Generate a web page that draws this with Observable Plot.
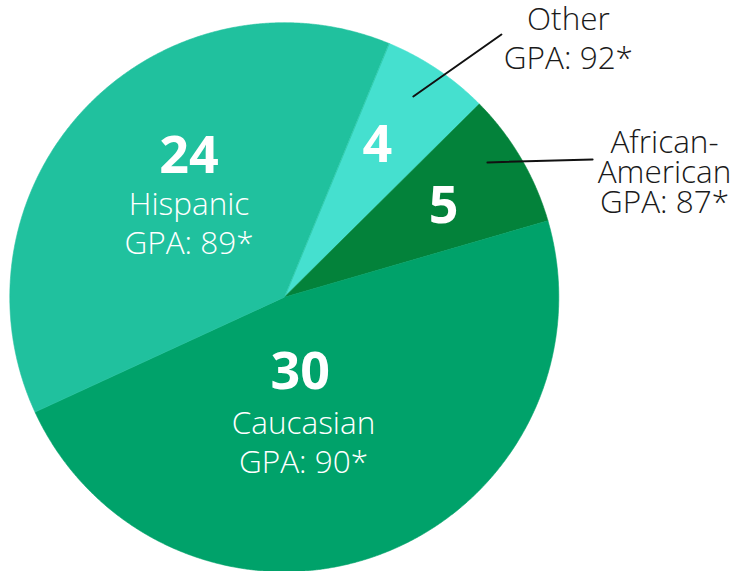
<!DOCTYPE html>
<html>
<head>
<meta charset="utf-8">
<script src="https://cdn.jsdelivr.net/npm/d3@7"></script>
<script src="https://cdn.jsdelivr.net/npm/@observablehq/plot@0.6"></script>
<style>
  html, body { margin: 0; padding: 0; background: #fff; }
  #chart svg { display: block; }
</style>
</head>
<body>
<div id="chart"></div>
<script>
// ---- data ----
const groups = ["Other", "African-American", "Caucasian", "Hispanic"];
const counts = [4, 5, 30, 24];
const gpas = [92, 87, 90, 89];
const nameLines = [["Other"], ["African-", "American"], ["Caucasian"], ["Hispanic"]];
const colors = ["#45e0cf", "#03823a", "#00a26a", "#20c19e"];

// ---- layout (units of pie radius, relative to pie centre; y downward) ----
const W = 734, H = 571;
const R = 274.5, CX = 283.8, CY = 296.7;
const startDeg = 22.4;
const numberPos = [[0.339, -0.491], [0.580, -0.272], [0.058, 0.336], [-0.347, -0.454]];
const labelPos = [[1.035, -0.972], [1.385, -0.527], [0.0699, 0.497], [-0.347, -0.301]];
const labelStep = [0.142, 0.111, 0.142, 0.142];
const labelInside = [false, false, true, true];
const leaders = [
  [[0.470, -0.731], [0.791, -0.957]],
  [[0.740, -0.491], [1.123, -0.502]]
];

// ---- build geometry from the data ----
const pie = d3.pie().sort(null).value(d => d.count)
  .startAngle(startDeg * Math.PI / 180)
  .endAngle(startDeg * Math.PI / 180 + 2 * Math.PI);
const rows = groups.map((g, i) => ({group: g, count: counts[i], gpa: gpas[i]}));
const arcs = pie(rows);
const pt = a => [Math.sin(a), -Math.cos(a)];
const slices = arcs.map(a => {
  const n = Math.max(2, Math.ceil((a.endAngle - a.startAngle) / (Math.PI / 720)));
  const ring = [[0, 0]];
  for (let k = 0; k <= n; k++) ring.push(pt(a.startAngle + (a.endAngle - a.startAngle) * k / n));
  ring.push([0, 0]);
  return {type: "Feature", properties: {group: a.data.group}, geometry: {type: "Polygon", coordinates: [ring]}};
});

const numberTexts = rows.map((r, i) => ({x: numberPos[i][0], y: numberPos[i][1], text: String(r.count)}));
const labelTexts = [];
rows.forEach((r, i) => {
  const lines = [...nameLines[i], `GPA: ${r.gpa}*`];
  lines.forEach((t, j) => labelTexts.push({
    x: labelPos[i][0], y: labelPos[i][1] + j * labelStep[i], text: t, inside: labelInside[i]
  }));
});
const leaderFeatures = leaders.map(l => ({type: "Feature", properties: {}, geometry: {type: "LineString", coordinates: l}}));

const chart = Plot.plot({
  width: W,
  height: H,
  margin: 0,
  style: {background: "#fff", overflow: "visible"},
  projection: {
    type: "identity",
    domain: {type: "MultiPoint", coordinates: [[-CX / R, -CY / R], [(W - CX) / R, (H - CY) / R]]}
  },
  color: {domain: groups, range: colors},
  marks: [
    Plot.geo(slices, {fill: d => d.properties.group, stroke: d => d.properties.group, strokeWidth: 0.6}),
    Plot.geo(leaderFeatures, {stroke: "#111", strokeWidth: 2}),
    Plot.text(numberTexts, {
      x: "x", y: "y", text: "text", fill: "#fff",
      fontFamily: "Open Sans", fontWeight: 700, fontSize: 52, lineAnchor: "bottom"
    }),
    Plot.text(labelTexts, {
      x: "x", y: "y", text: "text", fill: d => d.inside ? "#ffffff" : "#1a1a1a",
      fontFamily: "Open Sans", fontWeight: 300, fontSize: 31.5, lineAnchor: "bottom"
    })
  ]
});
document.getElementById("chart").appendChild(chart);
</script>
</body>
</html>
